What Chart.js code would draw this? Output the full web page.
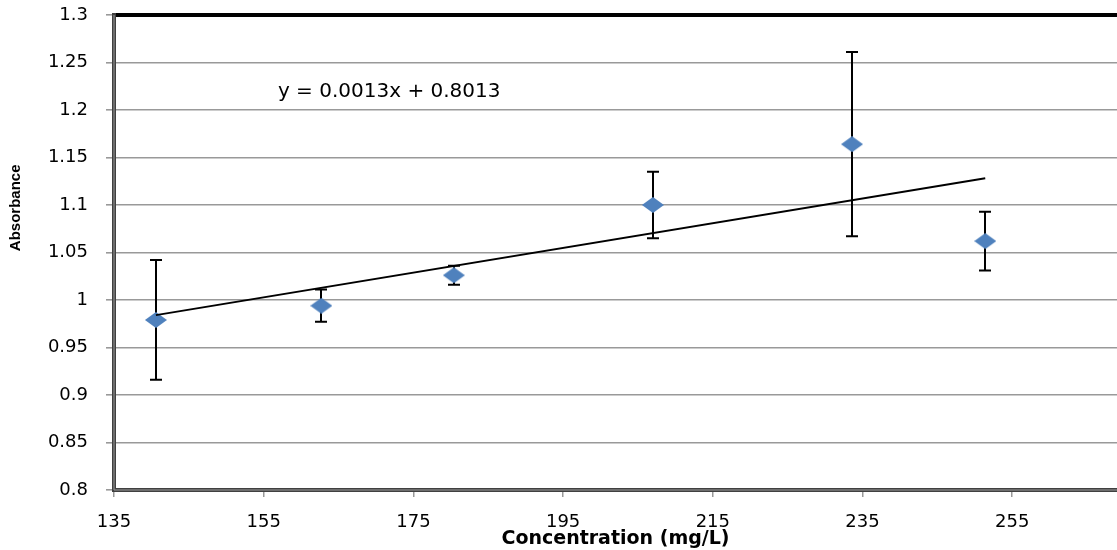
<!DOCTYPE html>
<html lang="en">
<head>
    <script src="https://cdn.jsdelivr.net/npm/chart.js"></script>
    <style>
        html, body { margin: 0; padding: 0; background: #fff; }
        #wrap { width: 1117px; height: 550px; position: relative; }
    </style>
</head>
<body>
<div id="wrap"><canvas id="myChart"></canvas></div>
<script>
    // values
    const concentration = [140.6, 162.7, 180.4, 207.0, 233.6, 251.4];
    const absorbance = [0.979, 0.994, 1.026, 1.100, 1.164, 1.062];
    const errorBars = [0.063, 0.017, 0.010, 0.035, 0.097, 0.031];
    const xTicks = [135, 155, 175, 195, 215, 235, 255];
    const slope = 0.0013;
    const intercept = 0.8013;
    const equationText = 'y = 0.0013x + 0.8013';

    const points = concentration.map((x, i) => ({ x: x, y: absorbance[i] }));
    const xFirst = concentration[0];
    const xLast = concentration[concentration.length - 1];
    const trend = [
        { x: xFirst, y: slope * xFirst + intercept },
        { x: xLast, y: slope * xLast + intercept }
    ];

    // flattened blue diamond marker
    function diamond(w, h, color) {
        const c = document.createElement('canvas');
        c.width = w; c.height = h;
        const g = c.getContext('2d');
        g.fillStyle = color;
        g.beginPath();
        g.moveTo(w / 2, 0); g.lineTo(w, h / 2); g.lineTo(w / 2, h); g.lineTo(0, h / 2);
        g.closePath();
        g.fill();
        return c;
    }
    const marker = diamond(22, 16, '#4f81bd');

    const errorBarPlugin = {
        id: 'errorBars',
        beforeDatasetsDraw(chart) {
            const ctx = chart.ctx;
            const xs = chart.scales.x, ys = chart.scales.y;
            ctx.save();
            ctx.strokeStyle = '#000';
            ctx.lineWidth = 2;
            concentration.forEach((c, i) => {
                const px = Math.round(xs.getPixelForValue(c));
                const top = ys.getPixelForValue(absorbance[i] + errorBars[i]);
                const bot = ys.getPixelForValue(absorbance[i] - errorBars[i]);
                ctx.beginPath();
                ctx.moveTo(px, top); ctx.lineTo(px, bot);
                ctx.moveTo(px - 6, top); ctx.lineTo(px + 6, top);
                ctx.moveTo(px - 6, bot); ctx.lineTo(px + 6, bot);
                ctx.stroke();
            });
            ctx.restore();
        }
    };

    const framePlugin = {
        id: 'frame',
        afterDraw(chart) {
            const ctx = chart.ctx;
            const a = chart.chartArea;
            const xs = chart.scales.x, ys = chart.scales.y;
            ctx.save();
            // equation label
            ctx.fillStyle = '#000';
            ctx.font = '20px "DejaVu Sans"';
            ctx.textAlign = 'left';
            ctx.textBaseline = 'middle';
            ctx.fillText(equationText, xs.getPixelForValue(156.9), ys.getPixelForValue(1.219));
            // y axis title
            ctx.save();
            ctx.translate(16, ys.getPixelForValue(1.097));
            ctx.rotate(-Math.PI / 2);
            ctx.textAlign = 'center';
            ctx.font = 'bold 15px "Liberation Sans"';
            ctx.fillText('Absorbance', 0, 0);
            ctx.restore();
            // top border
            ctx.fillStyle = '#000';
            ctx.fillRect(a.left, a.top - 2, a.right - a.left, 4);
            // left and bottom axes, dark double line
            ctx.fillStyle = '#404040';
            ctx.fillRect(a.left - 2, a.top - 2, 4, a.bottom - a.top + 4);
            ctx.fillRect(a.left - 2, a.bottom - 2, a.right - a.left + 2, 4);
            ctx.fillStyle = '#9a9a9a';
            ctx.fillRect(a.left - 0.5, a.top, 1, a.bottom - a.top);
            ctx.fillRect(a.left, a.bottom - 0.5, a.right - a.left, 1);
            ctx.restore();
        }
    };

    const ctx = document.getElementById('myChart').getContext('2d');
    const chart = new Chart(ctx, {
        type: 'scatter',
        data: {
            datasets: [{
                type: 'line',
                label: 'Trend',
                data: trend,
                borderColor: '#000',
                borderWidth: 2,
                pointRadius: 0,
                fill: false
            }, {
                label: 'Absorbance',
                data: points,
                pointStyle: marker,
                pointRadius: 10,
                pointHoverRadius: 10
            }]
        },
        options: {
            responsive: true,
            maintainAspectRatio: false,
            animation: false,
            layout: { autoPadding: false, padding: { top: 15, right: 0, left: 0, bottom: 0 } },
            plugins: {
                legend: { display: false },
                tooltip: { enabled: false }
            },
            scales: {
                x: {
                    type: 'linear',
                    min: 135,
                    max: 269,
                    afterBuildTicks: (scale) => { scale.ticks = xTicks.map(v => ({ value: v })); },
                    afterFit: (scale) => { scale.height = 60; scale.paddingLeft = 0; scale.paddingRight = 0; },
                    border: { display: false },
                    grid: { drawOnChartArea: false, drawTicks: true, tickLength: 7, color: '#999', lineWidth: 1.5 },
                    ticks: {
                        color: '#000',
                        padding: 15,
                        maxRotation: 0,
                        font: { family: '"DejaVu Sans"', size: 18 }
                    },
                    title: {
                        display: true,
                        text: 'Concentration (mg/L)',
                        color: '#000',
                        padding: { top: 0, bottom: 0 },
                        font: { family: '"DejaVu Sans"', size: 19, weight: 'bold' }
                    }
                },
                y: {
                    min: 0.8,
                    max: 1.3,
                    afterFit: (scale) => { scale.width = 114; scale.paddingTop = 0; scale.paddingBottom = 0; },
                    border: { display: false },
                    grid: { color: '#999', lineWidth: 1.6, tickLength: 8 },
                    ticks: {
                        stepSize: 0.05,
                        color: '#000',
                        padding: 18,
                        font: { family: '"DejaVu Sans"', size: 18 },
                        callback: (v) => String(+v.toFixed(2))
                    }
                }
            }
        },
        plugins: [errorBarPlugin, framePlugin]
    });
</script>
</body>
</html>
